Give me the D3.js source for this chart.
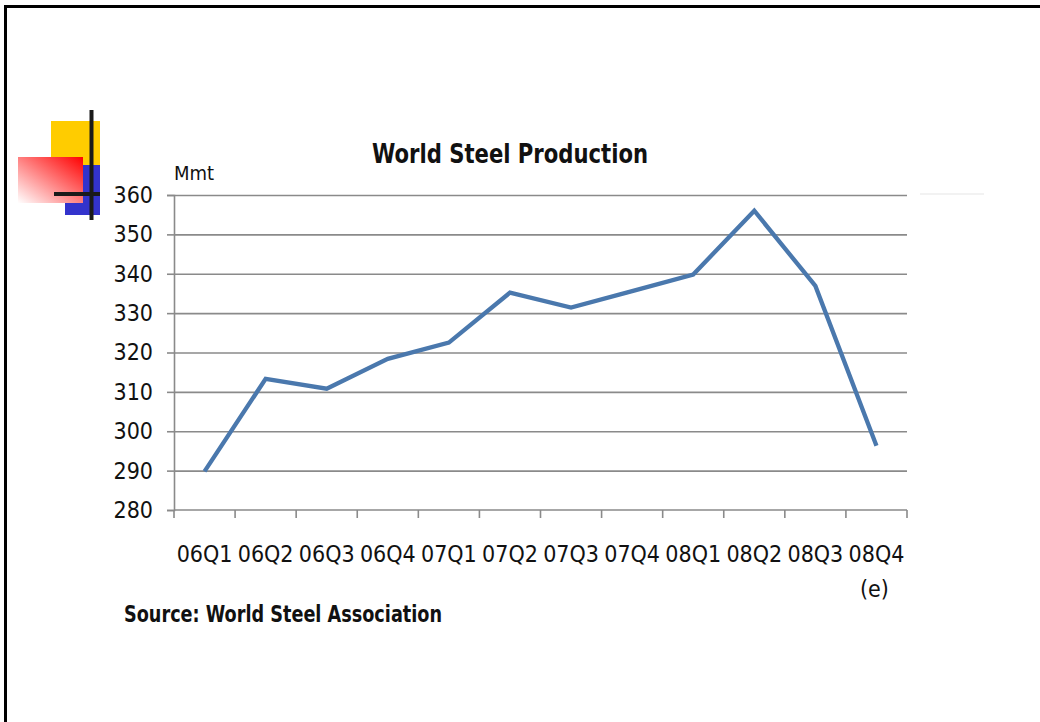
<!DOCTYPE html>
<html>
<head>
<meta charset="utf-8">
<script src="https://cdn.jsdelivr.net/npm/d3@7"></script>
<style>
  html, body { margin: 0; padding: 0; background: #fff; }
  svg { display: block; }
  text { font-family: "DejaVu Sans Condensed", "Liberation Sans", sans-serif; fill: #111; }
</style>
</head>
<body>
<svg id="chart" width="1040" height="722"></svg>
<script>
// Quarterly world crude steel output, million metric tonnes
const quarters = ["06Q1", "06Q2", "06Q3", "06Q4", "07Q1", "07Q2", "07Q3", "07Q4", "08Q1", "08Q2", "08Q3", "08Q4"];
const production = [289.8, 313.3, 310.8, 318.4, 322.5, 335.2, 331.4, 335.6, 339.8, 356.0, 336.9, 296.3];
const quarterNotes = ["", "", "", "", "", "", "", "", "", "", "", "(e)"];
const yTicks = [280, 290, 300, 310, 320, 330, 340, 350, 360];

const svg = d3.select("#chart");

// slide frame: top and left rules
svg.append("rect").attr("x", 4).attr("y", 5).attr("width", 1036).attr("height", 3).attr("fill", "#000");
svg.append("rect").attr("x", 4).attr("y", 5).attr("width", 3).attr("height", 717).attr("fill", "#000");

// slide bullet ornament
const defs = svg.append("defs");
const grad = defs.append("linearGradient").attr("id", "redFade")
  .attr("x1", 1).attr("y1", 0).attr("x2", 0).attr("y2", 1);
grad.append("stop").attr("offset", 0).attr("stop-color", "#ff0000");
grad.append("stop").attr("offset", 1).attr("stop-color", "#ffffff");
svg.append("rect").attr("x", 51).attr("y", 121).attr("width", 49).attr("height", 44).attr("fill", "#ffcc00");
svg.append("rect").attr("x", 65).attr("y", 165).attr("width", 35).attr("height", 50).attr("fill", "#3333cc");
svg.append("rect").attr("x", 18).attr("y", 157).attr("width", 65).attr("height", 46).attr("fill", "url(#redFade)");
svg.append("rect").attr("x", 89.5).attr("y", 110).attr("width", 4).attr("height", 110).attr("fill", "#1a1a1a");
svg.append("rect").attr("x", 54).attr("y", 192).attr("width", 46).attr("height", 4).attr("fill", "#1a1a1a");

// plot area
const plotLeft = 174, plotRight = 907, plotTop = 195, plotBottom = 510;

const x = d3.scaleBand().domain(quarters).range([plotLeft, plotRight]).padding(0);
const y = d3.scaleLinear().domain([280, 360]).range([plotBottom, plotTop]);

// horizontal gridlines
const grid = svg.append("g").attr("transform", `translate(${plotLeft},0)`)
  .call(d3.axisLeft(y).tickValues(yTicks.slice(1)).tickSize(-(plotRight - plotLeft)).tickFormat(""));
grid.select(".domain").remove();
grid.selectAll(".tick line").attr("stroke", "#8a8a8a").attr("stroke-width", 1.6);

// faint extension line past the plot on the right
svg.append("line").attr("x1", 920).attr("x2", 984).attr("y1", y(360) - 1).attr("y2", y(360) - 1)
  .attr("stroke", "#eeeeee").attr("stroke-width", 1.5);

// y axis
const yAxis = svg.append("g").attr("transform", `translate(${plotLeft},0)`)
  .call(d3.axisLeft(y).tickValues(yTicks).tickSize(7).tickPadding(14));
yAxis.select(".domain").attr("stroke", "#8a8a8a").attr("stroke-width", 1.6);
yAxis.selectAll(".tick line").attr("stroke", "#8a8a8a").attr("stroke-width", 1.6);
yAxis.selectAll(".tick text").attr("font-size", 23).attr("fill", "#111")
  .attr("font-family", "'DejaVu Sans Condensed', sans-serif");

// x axis baseline and boundary ticks
svg.append("line").attr("x1", plotLeft).attr("x2", plotRight).attr("y1", plotBottom).attr("y2", plotBottom)
  .attr("stroke", "#8a8a8a").attr("stroke-width", 1.6);
svg.append("g").selectAll("line")
  .data(d3.range(quarters.length + 1))
  .join("line")
  .attr("x1", i => plotLeft + i * x.step()).attr("x2", i => plotLeft + i * x.step())
  .attr("y1", plotBottom).attr("y2", plotBottom + 8)
  .attr("stroke", "#8a8a8a").attr("stroke-width", 1.6);

// x category labels
const xl = svg.append("g").selectAll("g")
  .data(quarters.map((q, i) => ({ q, note: quarterNotes[i] })))
  .join("g")
  .attr("transform", d => `translate(${x(d.q) + x.bandwidth() / 2},0)`);
xl.append("text").attr("y", 562).attr("text-anchor", "middle").attr("font-size", 23).text(d => d.q);
xl.append("text").attr("y", 597).attr("text-anchor", "middle").attr("font-size", 23)
  .attr("dx", -2).text(d => d.note);

// production line
const line = d3.line()
  .x((d, i) => x(quarters[i]) + x.bandwidth() / 2)
  .y(d => y(d));
svg.append("path").datum(production)
  .attr("d", line)
  .attr("fill", "none")
  .attr("stroke", "#4a78ad")
  .attr("stroke-width", 4.3)
  .attr("stroke-linejoin", "miter");

// titles
svg.append("text").attr("x", 372).attr("y", 163)
  .attr("font-size", 27).attr("font-weight", "bold")
  .attr("textLength", 276).attr("lengthAdjust", "spacingAndGlyphs")
  .text("World Steel Production");
svg.append("text").attr("x", 174).attr("y", 180).attr("font-size", 20).text("Mmt");
svg.append("text").attr("x", 124).attr("y", 622).attr("font-size", 23).attr("font-weight", "bold")
  .attr("textLength", 318).attr("lengthAdjust", "spacingAndGlyphs")
  .text("Source: World Steel Association");
</script>
</body>
</html>
